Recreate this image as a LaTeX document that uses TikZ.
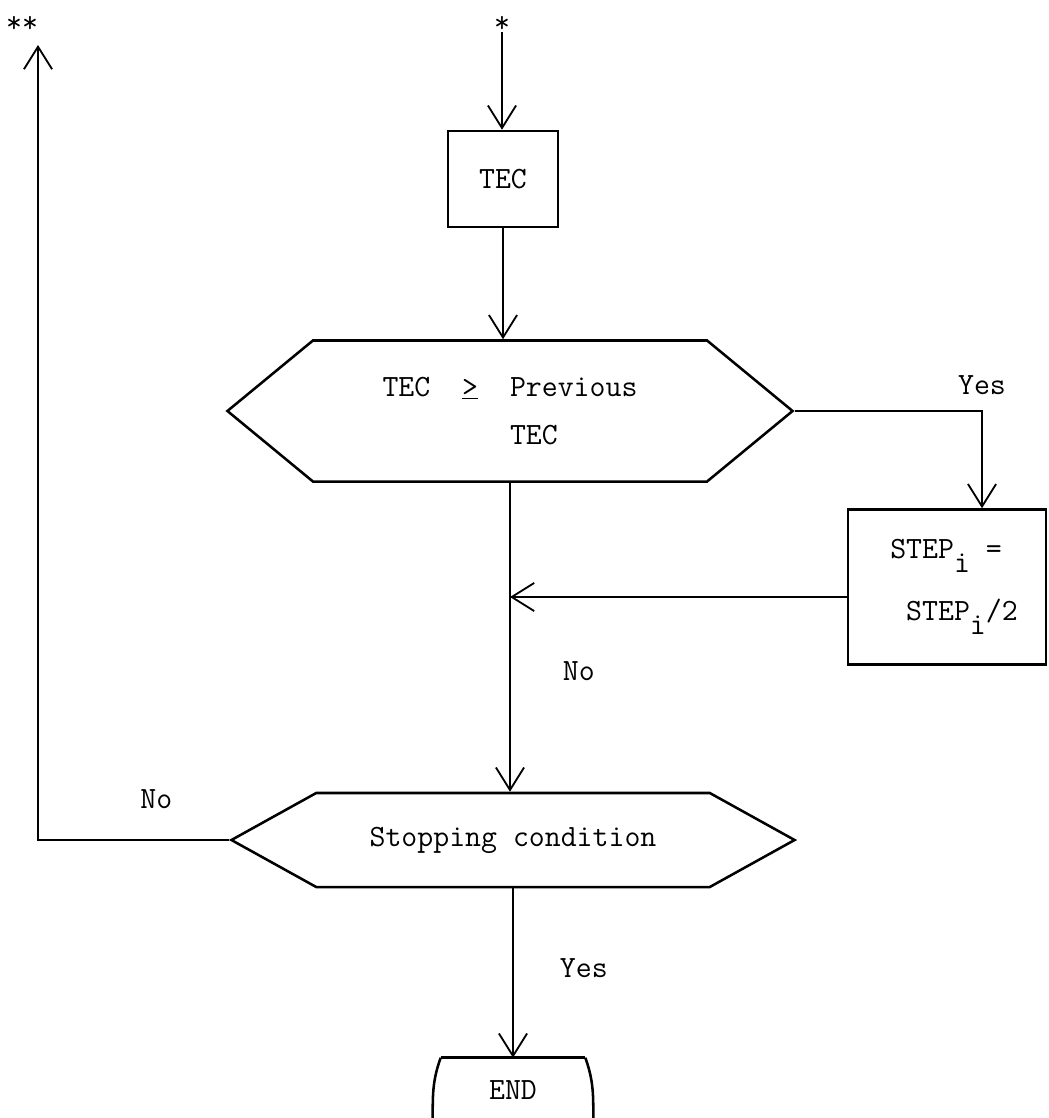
\documentclass[tikz,border=0pt]{standalone}
\usepackage{tikz}
\usetikzlibrary{shapes.symbols, arrows.meta, positioning, calc}

\begin{document}
\begin{tikzpicture}[
    x=0.025cm, y=-0.025cm,
    font=\ttfamily\fontsize{22}{26}\selectfont,
    procbox/.style={draw, rectangle, line width=1.8pt, align=left, inner sep=0pt},
    hexbox/.style={draw, signal, signal to=west and east, line width=1.8pt, align=left, inner sep=0pt},
    endbox/.style={inner sep=0pt, minimum width=3.6cm, minimum height=1.6cm},
    lbl/.style={inner sep=0pt},
    outline/.style={line width=1.8pt},
    arrow/.style={-{Straight Barb[length=16pt, width=20pt, line width=1.3pt]}, line width=1.3pt}
]
\useasboundingbox (0,0) rectangle (1048,1118);

% Nodes
\node[lbl] (start) at (502,24) {*};
\node[lbl] (ret) at (22,24) {**};
\node[procbox, minimum width=2.75cm, minimum height=2.4cm] (tec) at (503,179) {TEC};
\node[hexbox, minimum width=14.125cm, minimum height=3.525cm, signal pointer angle=79] (cmp) at (510,411)
    {TEC~~\underline{>}~~Previous\\[8pt]\phantom{TEC~~>~~}TEC\hspace*{12pt}};
\node[procbox, minimum width=4.95cm, minimum height=3.875cm] (halve) at (947,587)
    {\hspace*{10pt}STEP\raisebox{-10pt}{i}~=\\[18pt]\hspace*{10pt}~STEP\raisebox{-10pt}{i}/2};
\node[hexbox, minimum width=14.075cm, minimum height=2.35cm, signal pointer angle=58] (stopc) at (513,840)
    {Stopping condition};
\node[endbox] (fin) at (513,1090) {END};
\coordinate (merge) at (510,597);
\coordinate (up) at (38,45);

% END outline
\draw[outline] (fin.north west) -- (fin.north east);
\draw[outline] (fin.north west) to[out=-110, in=90] ++(-8,62);
\draw[outline] (fin.north east) to[out=-70, in=90] ++(8,62);

% Connections
\draw[arrow] (start.south) -- (start.south |- tec.north);
\draw[arrow] (tec.south) -- (tec.south |- cmp.north);
\draw[arrow] (cmp.east) -| node[pos=0.5, above=11pt, lbl] {Yes} ([xshift=0.875cm]halve.north);
\draw[arrow] (halve.west |- merge) -- (merge);
\draw[arrow] (cmp.south) -- node[pos=0.61, right=1.3cm, lbl] {No} (cmp.south |- stopc.north);
\draw[arrow] (stopc.west) -| node[pos=0.19, above=0.75cm, lbl] {No} (up);
\draw[arrow] (stopc.south) -- node[pos=0.47, right=1.15cm, lbl] {Yes} (stopc.south |- fin.north);

\end{tikzpicture}
\end{document}
